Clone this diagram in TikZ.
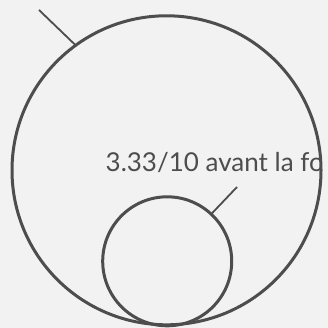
\documentclass[tikz,border=0pt]{standalone}
\usepackage{fontspec}
\setmainfont{Lato}
\definecolor{bg}{HTML}{F2F2F2}
\definecolor{ink}{HTML}{4D4D4D}
\begin{document}
\begin{tikzpicture}[x=1pt,y=-1pt,
  ring/.style={circle,draw=ink,line width=3pt,inner sep=0pt,outer sep=0pt},
  leader/.style={draw=ink,line width=1.8pt},
  lbl/.style={text=ink,inner sep=0pt,anchor=base west,font=\fontsize{26}{30}\selectfont}]
\fill[bg] (0,0) rectangle (328,328);
\useasboundingbox (0,0) rectangle (328,328);
\begin{scope}
\clip (166.5,170.3) circle (154.5);
\node[lbl] (txt) at (105.5,171.7) {3.33/10 avant la fo};
\end{scope}
\node[ring,minimum size=309pt] (big) at (166.5,170.3) {};
\node[ring,minimum size=129pt] (small) at (167.2,261.3) {};
\coordinate (l1) at (39,10);
\coordinate (l2) at (237,187);
\draw[leader] (big.126.5) -- (l1);
\draw[leader] (small.47.7) -- (l2);
\end{tikzpicture}
\end{document}
